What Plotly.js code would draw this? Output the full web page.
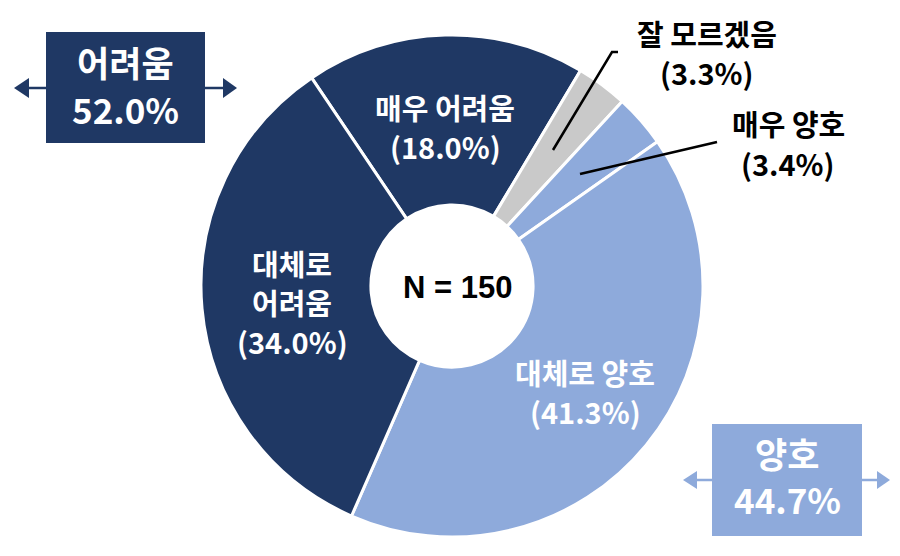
<!DOCTYPE html>
<html>
<head>
<meta charset="utf-8">
<script src="https://cdn.plot.ly/plotly-3.0.1.min.js"></script>
<style>html,body{margin:0;padding:0;background:#fff;}#chart{width:900px;height:556px;}</style>
</head>
<body>
<div id="chart"></div>
<script>
// Data
var categories = ['매우 어려움', '잘 모르겠음', '매우 양호', '대체로 양호', '대체로 어려움'];
var values = [18.0, 3.3, 3.4, 41.3, 34.0];
var groupNames = ['어려움', '양호'];
var groupValues = [52.0, 44.7];
var sampleSize = 150;

var NAVY = '#1f3864';
var LIGHT = '#8eaadb';
var GRAY = '#c9c9c9';
var colors = [NAVY, GRAY, LIGHT, LIGHT, NAVY];

var W = 900, H = 556;
function px(x) { return x / W; }
function py(y) { return 1 - y / H; }

var KFONT = '"Noto Sans CJK KR", "Noto Sans", sans-serif';

var cx = 452, cy = 286, R = 251;

var trace = {
  type: 'pie',
  values: values,
  labels: categories,
  sort: false,
  direction: 'clockwise',
  rotation: -34,
  hole: 0.323,
  textinfo: 'none',
  hoverinfo: 'label+value',
  marker: { colors: colors, line: { color: '#ffffff', width: 3 } },
  domain: { x: [px(cx - R), px(cx + R)], y: [py(cy + R), py(cy - R)] }
};

function pct(v) { return '(' + v.toFixed(1) + '%)'; }

var annotations = [];
function addText(text, x, y, color, size, weight, family) {
  annotations.push({
    xref: 'paper', yref: 'paper', x: px(x), y: py(y),
    xanchor: 'center', yanchor: 'middle', showarrow: false,
    text: text, align: 'center',
    font: { family: family || KFONT, size: size, color: color, weight: weight || 700 }
  });
}

var S = 29;
// Inside labels
addText(categories[0], 445, 107, '#ffffff', S);
addText(pct(values[0]), 445, 146, '#ffffff', S);
addText('대체로', 292, 263, '#ffffff', S);
addText('어려움', 292, 302, '#ffffff', S);
addText(pct(values[4]), 292, 341, '#ffffff', S);
addText(categories[3], 585, 372, '#ffffff', S);
addText(pct(values[3]), 585, 411, '#ffffff', S);
// Outside labels
addText(categories[1], 707, 33, '#000000', S);
addText(pct(values[1]), 707, 72, '#000000', S);
addText(categories[2], 788, 123, '#000000', S);
addText(pct(values[2]), 788, 163, '#000000', S);
// Center
addText('N = ' + sampleSize, 457, 287, '#000000', 31, 700, 'Arial, "Liberation Sans", sans-serif');
// Group boxes
addText(groupNames[0], 125.5, 62, '#ffffff', 35);
addText(groupValues[0].toFixed(1) + '%', 125.5, 108, '#ffffff', 35);
addText(groupNames[1], 787, 452, '#ffffff', 35);
addText(groupValues[1].toFixed(1) + '%', 787, 498, '#ffffff', 35);

var shapes = [];
function rect(x0, y0, x1, y1, color) {
  shapes.push({ type: 'rect', xref: 'paper', yref: 'paper', x0: px(x0), x1: px(x1), y0: py(y1), y1: py(y0),
    fillcolor: color, line: { width: 0 }, layer: 'below' });
}
function line(x0, y0, x1, y1, color, w) {
  shapes.push({ type: 'line', xref: 'paper', yref: 'paper', x0: px(x0), x1: px(x1), y0: py(y0), y1: py(y1),
    line: { color: color, width: w } });
}
function tri(tipx, basex, y, half, color) {
  var p = 'M ' + px(tipx) + ' ' + py(y) + ' L ' + px(basex) + ' ' + py(y - half) + ' L ' + px(basex) + ' ' + py(y + half) + ' Z';
  shapes.push({ type: 'path', xref: 'paper', yref: 'paper', path: p, fillcolor: color, line: { width: 0 } });
}

// Box 1 (어려움)
rect(46, 32, 205, 143, NAVY);
line(26, 88, 46, 88, NAVY, 2.5);
line(205, 88, 226, 88, NAVY, 2.5);
tri(14, 29, 88, 10, NAVY);
tri(237, 223, 88, 10, NAVY);
// Box 2 (양호)
rect(712, 424, 862, 536, LIGHT);
line(694, 480, 712, 480, LIGHT, 2.5);
line(862, 480, 879, 480, LIGHT, 2.5);
tri(683, 697, 480, 9, LIGHT);
tri(890, 877, 480, 9, LIGHT);
// Leader lines
shapes.push({ type: 'path', xref: 'paper', yref: 'paper',
  path: 'M ' + px(553) + ' ' + py(150) + ' L ' + px(612) + ' ' + py(52) + ' L ' + px(618) + ' ' + py(52),
  line: { color: '#000000', width: 2.5 } });
line(580, 174, 717, 142, '#000000', 2.5);

var layout = {
  width: W, height: H,
  margin: { l: 0, r: 0, t: 0, b: 0 },
  paper_bgcolor: '#ffffff',
  showlegend: false,
  annotations: annotations,
  shapes: shapes
};

Plotly.newPlot('chart', [trace], layout, { displayModeBar: false, staticPlot: true });
</script>
</body>
</html>
